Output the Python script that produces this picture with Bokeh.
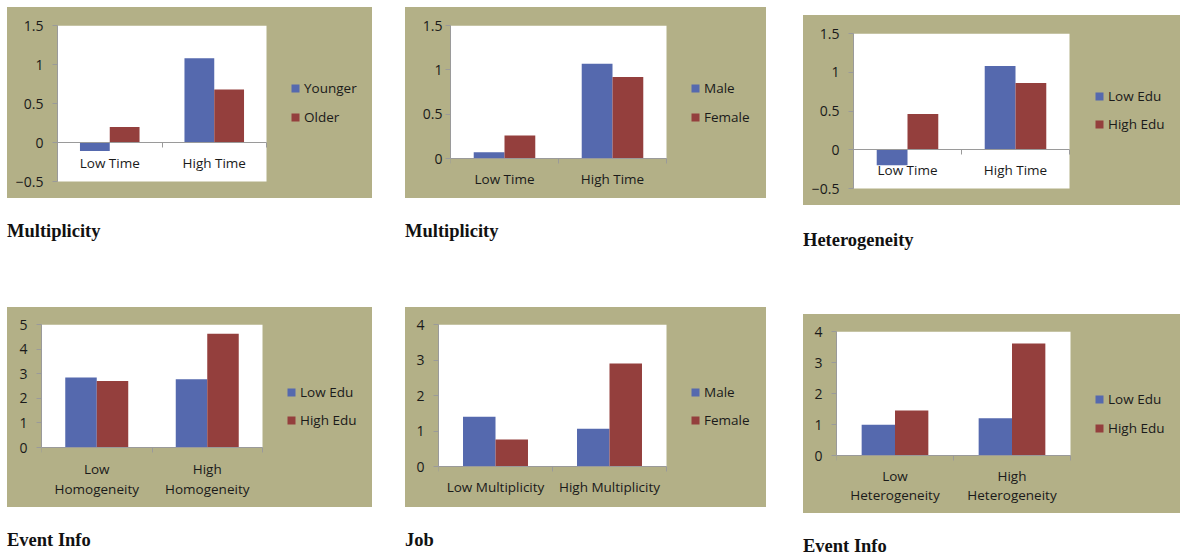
from bokeh.plotting import figure
from bokeh.models import (Range1d, LinearAxis, FixedTicker, ColumnDataSource, LabelSet,
                          Legend, LegendItem, Div, Spacer, BoxAnnotation)
from bokeh.layouts import row, column
from bokeh.core.properties import value
from bokeh.embed import file_html
from bokeh.resources import INLINE

# ---------------- data ----------------
p1_categories = ["Low Time", "High Time"]
p1_series = ["Younger", "Older"]
p1_younger = [-0.11, 1.08]
p1_older = [0.20, 0.68]

p2_categories = ["Low Time", "High Time"]
p2_series = ["Male", "Female"]
p2_male = [0.07, 1.07]
p2_female = [0.26, 0.92]

p3_categories = ["Low Time", "High Time"]
p3_series = ["Low Edu", "High Edu"]
p3_low_edu = [-0.20, 1.08]
p3_high_edu = [0.46, 0.86]

p4_categories = ["Low\nHomogeneity", "High\nHomogeneity"]
p4_series = ["Low Edu", "High Edu"]
p4_low_edu = [2.85, 2.77]
p4_high_edu = [2.70, 4.62]

p5_categories = ["Low Multiplicity", "High Multiplicity"]
p5_series = ["Male", "Female"]
p5_male = [1.40, 1.06]
p5_female = [0.76, 2.90]

p6_categories = ["Low\nHeterogeneity", "High\nHeterogeneity"]
p6_series = ["Low Edu", "High Edu"]
p6_low_edu = [0.99, 1.20]
p6_high_edu = [1.45, 3.61]

titles = ["Multiplicity", "Multiplicity", "Heterogeneity", "Event Info", "Job", "Event Info"]

# ---------------- style ----------------
BLUE = "#5569AE"
RED = "#943F3D"
KHAKI = "#B3B087"
AXIS = "#9A9A9A"
TXT = "#1A1A1A"
FONT = "Open Sans"
FS = "13.5px"
FS_Y = "14px"
BAR_W = 0.285


def panel(cats, names, v1, v2, yr, yticks, khaki, white, std, lab_off, lab_gap,
          sq_x, row2_y, pitch):
    kl, kt, kr, kb = khaki          # page box of the khaki panel
    wl, wt, wr, wb = white          # page box of the white plotting area
    n = len(cats)
    ymin, ymax = yr
    ppx = (wr - wl) / n
    ppy = (wb - wt) / (ymax - ymin)
    x_end = (kr - wl) / ppx
    y_start = ymin - (kb - wb) / ppy

    p = figure(width=kr - kl, height=kb - kt,
               x_range=Range1d(0, x_end), y_range=Range1d(y_start, ymax),
               x_axis_type=None, y_axis_type=None, toolbar_location=None,
               output_backend="svg", title=None, frame_align=False,
               min_border_left=wl - kl, min_border_right=0,
               min_border_top=wt - kt, min_border_bottom=0,
               styles={"background-color": KHAKI})
    p.border_fill_color = None
    p.background_fill_color = None
    p.outline_line_color = None
    p.grid.visible = False

    # white plotting area = the value axis range x the category range
    p.add_layout(BoxAnnotation(left=0, right=n, bottom=ymin, top=ymax,
                               fill_color="white", fill_alpha=1, line_color=None,
                               level="underlay"))

    centers = [i + 0.5 for i in range(n)]
    lines = [c.split("\n") for c in cats]
    nl = max(len(l) for l in lines)
    data = dict(x1=[c - BAR_W / 2 for c in centers],
                x2=[c + BAR_W / 2 for c in centers],
                v1=v1, v2=v2, xc=centers, y0=[0] * n)
    for k in range(nl):
        data["lab%d" % k] = [l[k] if k < len(l) else "" for l in lines]
    src = ColumnDataSource(data)
    r1 = p.vbar(x="x1", top="v1", bottom=0, width=BAR_W, source=src,
                fill_color=BLUE, line_color=None)
    r2 = p.vbar(x="x2", top="v2", bottom=0, width=BAR_W, source=src,
                fill_color=RED, line_color=None)

    ya = LinearAxis(ticker=FixedTicker(ticks=yticks), bounds=(ymin, ymax))
    ya.axis_line_color = AXIS
    ya.major_tick_line_color = AXIS
    ya.major_tick_out = 5
    ya.major_tick_in = 0
    ya.minor_tick_line_color = None
    ya.major_label_standoff = std
    ya.major_label_text_font = FONT
    ya.major_label_text_font_size = FS_Y
    ya.major_label_text_color = TXT
    p.add_layout(ya, "left")

    xa = LinearAxis(ticker=FixedTicker(ticks=[], minor_ticks=list(range(n + 1))),
                    fixed_location=0, bounds=(0, n))
    xa.axis_line_color = AXIS
    xa.major_tick_line_color = None
    xa.major_tick_out = 0
    xa.major_tick_in = 0
    xa.minor_tick_line_color = AXIS
    xa.minor_tick_out = 5
    xa.minor_tick_in = 0
    xa.major_label_standoff = 0
    p.add_layout(xa, "below")

    for k in range(nl):
        p.add_layout(LabelSet(x="xc", y="y0", text="lab%d" % k, source=src,
                              y_offset=-(lab_off + k * lab_gap),
                              text_align="center", text_baseline="middle",
                              text_font=value(FONT), text_font_size=FS, text_color=TXT))

    legend = Legend(items=[LegendItem(label=names[0], renderers=[r1]),
                           LegendItem(label=names[1], renderers=[r2])],
                    location=(sq_x - 1 - wl, kb - (row2_y + 10)),
                    orientation="vertical",
                    glyph_width=10, glyph_height=10, label_height=20, spacing=pitch - 20,
                    label_standoff=4, padding=0, margin=0,
                    border_line_color=None, background_fill_alpha=0,
                    label_text_font=FONT, label_text_font_size=FS, label_text_color=TXT)
    p.add_layout(legend)
    return p


f1 = panel(p1_categories, p1_series, p1_younger, p1_older, (-0.5, 1.5), [-0.5, 0, 0.5, 1, 1.5],
           (7, 7, 372, 198), (57, 25, 266, 181), 9, 20, 0, 291, 117, 29)
f2 = panel(p2_categories, p2_series, p2_male, p2_female, (0, 1.5), [0, 0.5, 1, 1.5],
           (405, 7, 766, 198), (450, 25, 666, 158), 3, 20, 0, 691, 117, 29)
f3 = panel(p3_categories, p3_series, p3_low_edu, p3_high_edu, (-0.5, 1.5), [-0.5, 0, 0.5, 1, 1.5],
           (803, 15, 1180, 205), (853, 33, 1069, 188), 9, 20, 0, 1095, 124, 28)
f4 = panel(p4_categories, p4_series, p4_low_edu, p4_high_edu, (0, 5), [0, 1, 2, 3, 4, 5],
           (7, 307, 372, 507), (41, 324, 262, 447), 9, 21, 20, 287, 420, 28)
f5 = panel(p5_categories, p5_series, p5_male, p5_female, (0, 4), [0, 1, 2, 3, 4],
           (405, 307, 766, 507), (438, 324, 666, 466), 9, 20, 0, 691, 420, 28)
f6 = panel(p6_categories, p6_series, p6_low_edu, p6_high_edu, (0, 4), [0, 1, 2, 3, 4],
           (803, 314, 1180, 513), (836, 331, 1070, 455), 9, 20, 19, 1095, 428, 29)


def title_div(t):
    return Div(text=t, width=300, height=18, margin=0,
               styles={"font-family": "Liberation Serif", "font-weight": "bold",
                       "font-size": "18.5px", "line-height": "18px", "color": "#111111"})


col1 = column(Spacer(height=7), f1, Spacer(height=24), title_div(titles[0]), Spacer(height=67),
              f4, Spacer(height=24), title_div(titles[3]), spacing=0)
col2 = column(Spacer(height=7), f2, Spacer(height=24), title_div(titles[1]), Spacer(height=67),
              f5, Spacer(height=24), title_div(titles[4]), spacing=0)
col3 = column(Spacer(height=15), f3, Spacer(height=26), title_div(titles[2]), Spacer(height=65),
              f6, Spacer(height=24), title_div(titles[5]), spacing=0)

layout = row(Spacer(width=7), col1, Spacer(width=33), col2, Spacer(width=37), col3, spacing=0)

open("out.html", "w").write(file_html(layout, INLINE))
